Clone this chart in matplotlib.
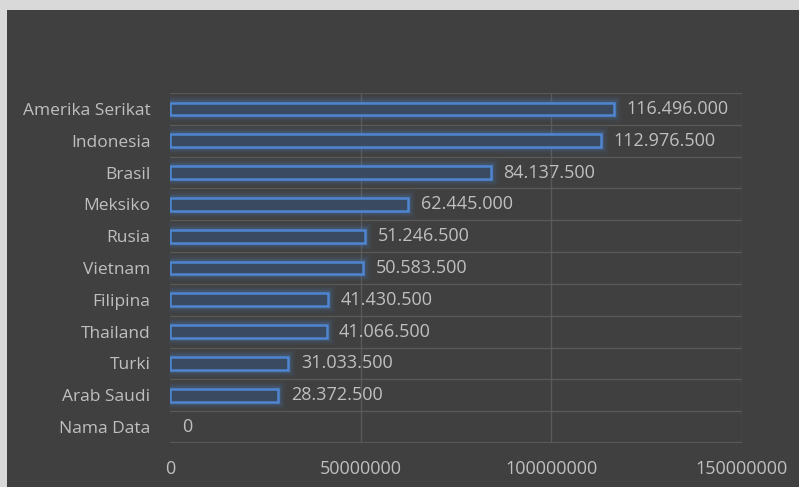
import matplotlib
matplotlib.use("Agg")
import matplotlib.pyplot as plt

countries = ["Amerika Serikat", "Indonesia", "Brasil", "Meksiko", "Rusia", "Vietnam",
             "Filipina", "Thailand", "Turki", "Arab Saudi", "Nama Data"]
values = [116496000, 112976500, 84137500, 62445000, 51246500, 50583500,
          41430500, 41066500, 31033500, 28372500, 0]
x_ticks = [0, 50000000, 100000000, 150000000]

BG = "#404040"
GRID = "#595959"
TEXT = "#bfbfbf"
EDGE = "#4e86d2"
FILL = "#3a4a60"

plt.rcParams["font.family"] = ["Open Sans", "DejaVu Sans"]

fig = plt.figure(figsize=(7.99, 4.87), dpi=100, facecolor="#d9d9d9")
# dark chart area inside the light border
fig.patches.append(plt.Rectangle((7 / 799, 0), 1, 1 - 10 / 487, transform=fig.transFigure,
                                 facecolor=BG, edgecolor="none", zorder=-10))
ax = fig.add_axes([170 / 799, 44 / 487, 572 / 799, 350 / 487])
ax.set_facecolor(BG)

pos = list(range(len(countries)))
# zero-length bars get no outline, like the original
bar_pos = [p for p, v in zip(pos, values) if v > 0]
bar_vals = [v for v in values if v > 0]

# soft glow behind bars
for lw, a in [(10, 0.06), (7, 0.1), (4.5, 0.16)]:
    ax.barh(bar_pos, bar_vals, height=0.4, color="none", edgecolor=EDGE, linewidth=lw,
            alpha=a, zorder=2)
ax.barh(bar_pos, bar_vals, height=0.4, color=FILL, edgecolor=EDGE, linewidth=1.8, zorder=3)

for y, v in zip(pos, values):
    label = f"{v:,}".replace(",", ".")
    ax.annotate(label, (v, y), xytext=(9, 0), textcoords="offset points",
                va="center", ha="left", color=TEXT, fontsize=13)

ax.set_xlim(0, 150000000)
ax.set_ylim(len(countries) - 0.5, -0.5)
ax.set_xticks(x_ticks)
ax.set_xticklabels([str(t) for t in x_ticks])
ax.set_yticks(pos)
ax.set_yticklabels(countries)
ax.tick_params(axis="both", length=0, colors=TEXT)
ax.tick_params(axis="y", pad=14, labelsize=12.5)
ax.tick_params(axis="x", pad=12, labelsize=13)

# vertical gridlines at x ticks, horizontal lines between categories
for t in x_ticks[1:]:
    ax.axvline(t, color=GRID, linewidth=1, zorder=1)
for b in [p + 0.5 for p in pos[:-1]]:
    ax.axhline(b, color=GRID, linewidth=1, zorder=1)
ax.axhline(-0.5, color=GRID, linewidth=1.5, zorder=1)
ax.axhline(len(countries) - 0.5, color=GRID, linewidth=1.5, zorder=1)

for s in ax.spines.values():
    s.set_visible(False)

fig.savefig("out.png", dpi=100, facecolor=fig.get_facecolor())
